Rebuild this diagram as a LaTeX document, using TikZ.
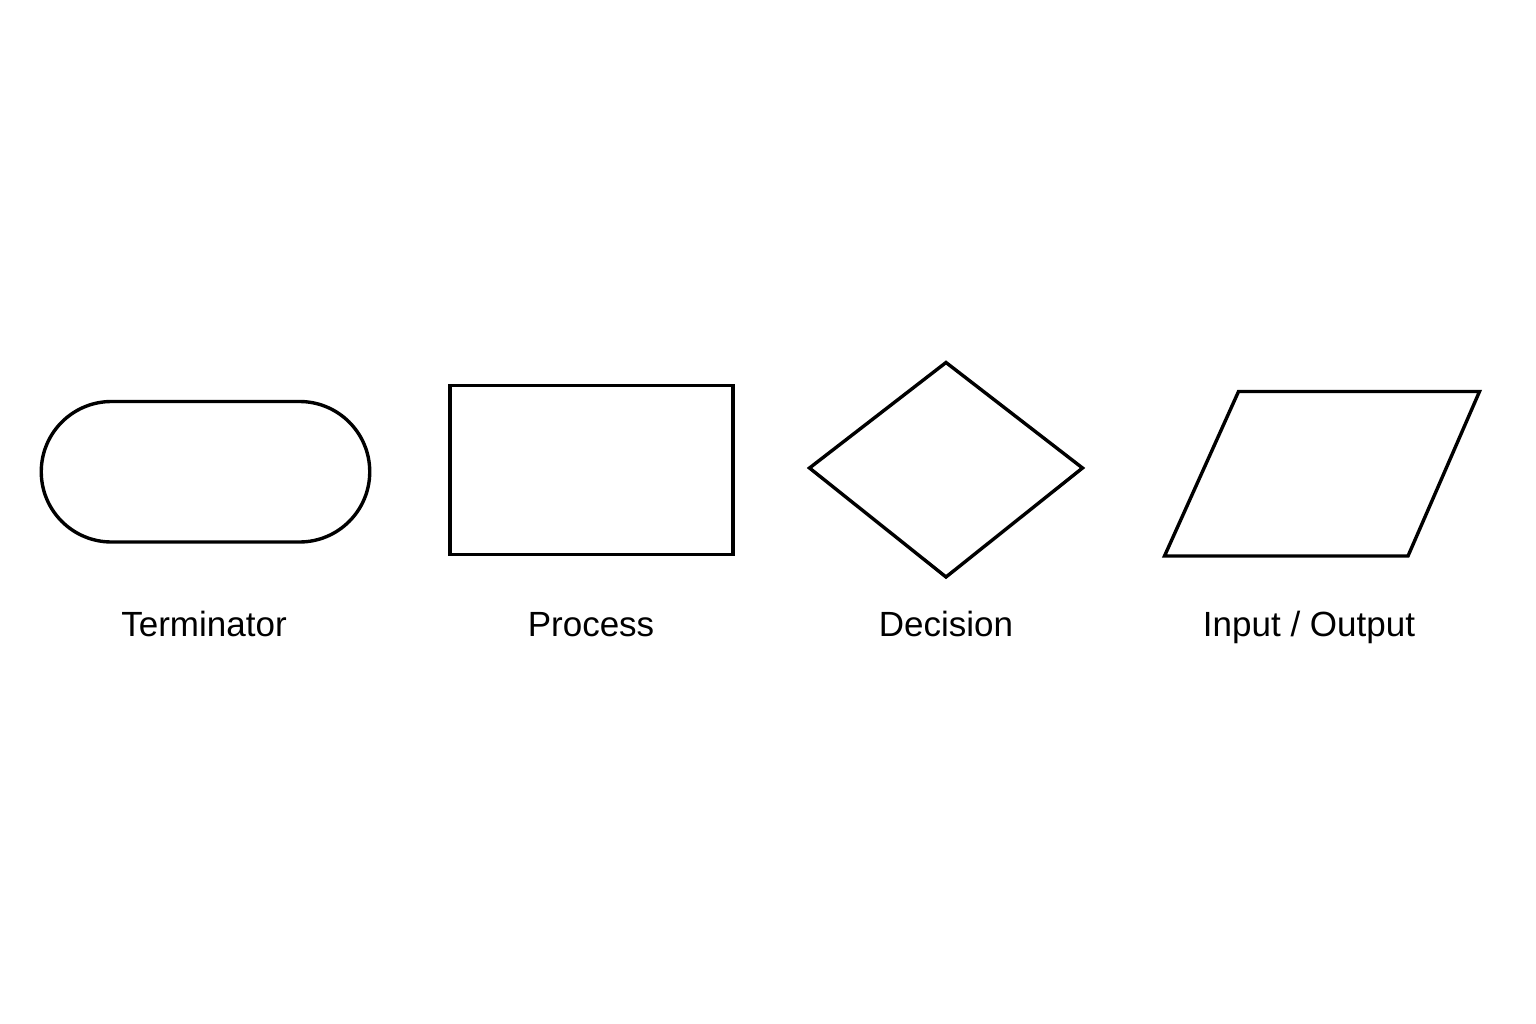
\documentclass[tikz,border=0pt]{standalone}
\usepackage{fontspec}
\setmainfont{Liberation Sans}
\begin{document}
\begin{tikzpicture}[x=1pt,y=-1pt,
  shapeline/.style={draw=black,line width=3.4pt,line join=miter},
  lbl/.style={anchor=base,inner sep=0pt,font=\fontsize{35}{42}\selectfont}]
\useasboundingbox[fill=white] (0,0) rectangle (1536,1024);
% Terminator
\draw[shapeline] (111.5,401.5) -- (299.5,401.5) arc[start angle=-90,end angle=90,radius=70.25] -- (111.5,542) arc[start angle=90,end angle=270,radius=70.25] -- cycle;
\coordinate (term) at (205,471.5);
% Process
\draw[shapeline] (450,385.5) rectangle (733,554.5);
\coordinate (proc) at (591.5,470);
% Decision
\draw[shapeline] (809.5,468) -- (946,362.5) -- (1082.5,468) -- (946,577) -- cycle;
\coordinate (dec) at (946,469.5);
% Input / Output
\draw[shapeline] (1238.5,391.5) -- (1479.5,391.5) -- (1408,556) -- (1164.5,556) -- cycle;
\coordinate (io) at (1322,473.5);
% Labels
\node[lbl] (tlabel) at (204,636) {Terminator};
\node[lbl] (plabel) at (591,636) {Process};
\node[lbl] (dlabel) at (946,636) {Decision};
\node[lbl] (iolabel) at (1309,636) {Input / Output};
\end{tikzpicture}
\end{document}
